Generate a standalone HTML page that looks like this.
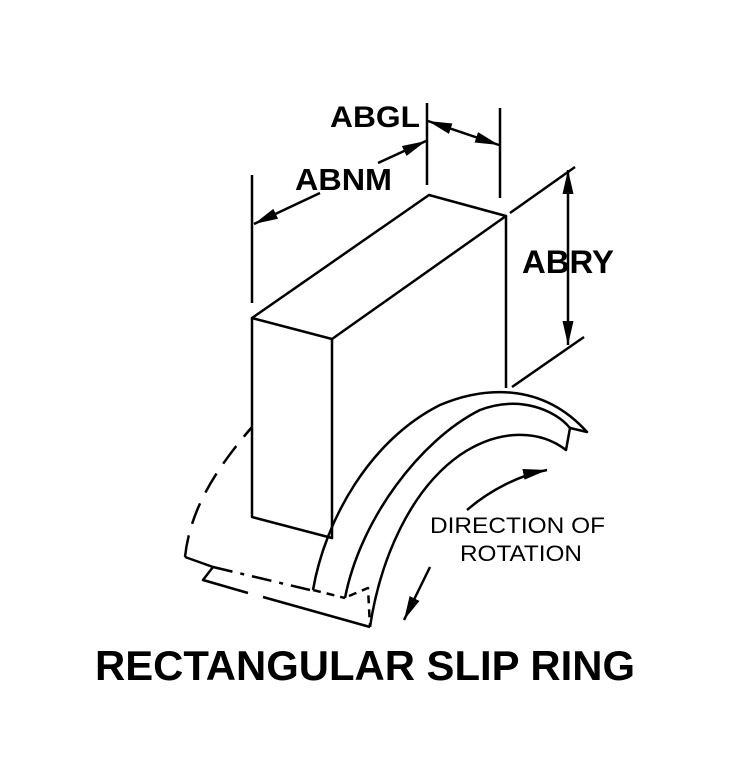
<!DOCTYPE html>
<html><head><style>
html,body{margin:0;padding:0;background:#fff;}
svg{display:block;}
text{font-family:"Liberation Sans",Arial,sans-serif;font-weight:bold;fill:#000;}
</style></head><body>
<svg width="736" height="773" viewBox="0 0 736 773" xmlns="http://www.w3.org/2000/svg">
<defs>
<marker id="b" viewBox="0 0 10 10" refX="10" refY="5" markerWidth="24" markerHeight="11" preserveAspectRatio="none" orient="auto-start-reverse" markerUnits="userSpaceOnUse">
<path d="M0,0 L10,5 L0,10 z" fill="#000"/></marker>
</defs>
<g fill="none" stroke="#000" stroke-width="2.5" stroke-linejoin="round">
<path d="M252,318 L332,339 L506,216 L429,195 Z"/>
<path d="M252,318 L252,517 L332,538 L332,339"/>
<path d="M506,216 L506,388"/>
<path d="M252,175 L252,303 M427,103 L427,185 M500,108 L500,198 M510,213 L575,167 M512,387 L584,337"/>
<path d="M320,193 L254,224" marker-end="url(#b)"/>
<path d="M378,163 L426,141" marker-end="url(#b)"/>
<path d="M428,121 L499,145" marker-start="url(#b)" marker-end="url(#b)"/>
<path d="M568,170 L568,345" marker-start="url(#b)" marker-end="url(#b)"/>
<path d="M313,590 C325,520 370,440 440,405 C480,388 540,380 587,432 L570,428 L566,450 C540,430 500,428 460,455 C410,490 380,560 370,627"/>
<path d="M345,598 C360,520 420,440 480,410 C520,395 555,410 570,428"/>
<path d="M370,627 L263,597 M248,593 L203,580 L213,567 L185,557"/>
<path d="M185,557 C190,510 215,470 252,427" stroke-dasharray="22,12"/>
<path d="M213,567 L310,590" stroke-dasharray="20,8,4,8"/>
<path d="M313,590 L345,598 M349,596 L368,588 L370,627" stroke-dasharray="8,6"/>
<path d="M467,510 C490,490 520,475 547,470" marker-end="url(#b)"/>
<path d="M430,567 L404,620" marker-end="url(#b)"/>
</g>
<text x="330" y="127" font-size="30" textLength="90" lengthAdjust="spacingAndGlyphs">ABGL</text>
<text x="295" y="190" font-size="31" textLength="97" lengthAdjust="spacingAndGlyphs">ABNM</text>
<text x="522" y="273" font-size="32" textLength="92" lengthAdjust="spacingAndGlyphs">ABRY</text>
<text x="430" y="533" font-size="22" textLength="175" lengthAdjust="spacingAndGlyphs" style="font-weight:normal">DIRECTION OF</text>
<text x="460" y="561" font-size="22" textLength="122" lengthAdjust="spacingAndGlyphs" style="font-weight:normal">ROTATION</text>
<text x="95" y="680" font-size="42" textLength="540" lengthAdjust="spacingAndGlyphs">RECTANGULAR SLIP RING</text>
</svg>
</body></html>
